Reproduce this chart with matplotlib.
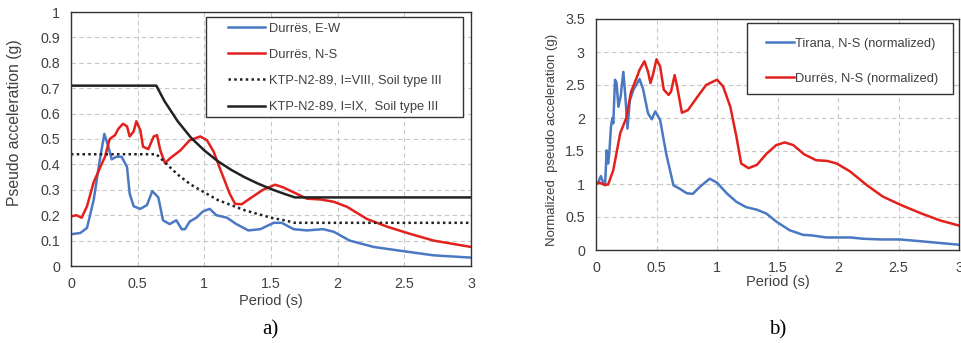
import numpy as np
import matplotlib.pyplot as plt
from matplotlib.patches import Rectangle

plt.rcParams['font.family'] = ['Liberation Sans', 'DejaVu Sans']

# ─────────────────────────────────────────────
# Panel a) – Durrës spectra vs KTP-N2-89
# ─────────────────────────────────────────────
t_ew = [0, 0.07, 0.12, 0.17, 0.22, 0.25, 0.28, 0.305, 0.34, 0.38, 0.42, 0.44, 0.47,
        0.52, 0.57, 0.61, 0.655, 0.69, 0.74, 0.79, 0.83, 0.855, 0.89, 0.94, 0.99,
        1.04, 1.09, 1.17, 1.24, 1.33, 1.42, 1.52, 1.58, 1.67, 1.77, 1.89, 1.97,
        2.09, 2.27, 2.47, 2.72, 3.0]
sa_ew = [0.125, 0.13, 0.15, 0.26, 0.43, 0.52, 0.47, 0.42, 0.43, 0.43, 0.39, 0.285, 0.235,
         0.225, 0.24, 0.295, 0.27, 0.18, 0.165, 0.18, 0.145, 0.145, 0.175, 0.19, 0.215,
         0.225, 0.2, 0.19, 0.165, 0.14, 0.145, 0.17, 0.17, 0.145, 0.14, 0.145, 0.135,
         0.10, 0.075, 0.06, 0.042, 0.033]

t_ns = [0, 0.04, 0.08, 0.12, 0.17, 0.22, 0.255, 0.29, 0.33, 0.355, 0.39, 0.42, 0.44,
        0.47, 0.49, 0.52, 0.54, 0.58, 0.62, 0.645, 0.67, 0.705, 0.745, 0.82, 0.89,
        0.97, 1.02, 1.07, 1.12, 1.19, 1.23, 1.28, 1.34, 1.44, 1.53, 1.59, 1.67, 1.77,
        1.87, 1.97, 2.07, 2.22, 2.37, 2.54, 2.72, 3.0]
sa_ns = [0.195, 0.2, 0.19, 0.235, 0.33, 0.39, 0.43, 0.5, 0.515, 0.54, 0.56, 0.55, 0.51,
         0.53, 0.57, 0.535, 0.47, 0.46, 0.51, 0.515, 0.455, 0.405, 0.425, 0.455, 0.495,
         0.51, 0.495, 0.45, 0.38, 0.285, 0.245, 0.243, 0.265, 0.3, 0.32, 0.31, 0.29, 0.265,
         0.262, 0.253, 0.233, 0.185, 0.155, 0.127, 0.1, 0.075]

t_code = [0, 0.64, 0.7, 0.8, 0.9, 1.0, 1.1, 1.2, 1.3, 1.4, 1.5, 1.6, 1.68, 3.0]
sa_viii = [0.44, 0.44, 0.41, 0.36, 0.32, 0.29, 0.26, 0.24, 0.22, 0.205, 0.19, 0.18, 0.17, 0.17]
sa_ix = [0.71, 0.71, 0.65, 0.57, 0.505, 0.455, 0.413, 0.379, 0.35, 0.325, 0.303, 0.284, 0.27, 0.27]

# ─────────────────────────────────────────────
# Panel b) – normalized spectra
# ─────────────────────────────────────────────
t_tir = [0, 0.02, 0.04, 0.06, 0.075, 0.088, 0.10, 0.11, 0.124, 0.135, 0.143, 0.157,
         0.17, 0.185, 0.204, 0.226, 0.245, 0.26, 0.28, 0.31, 0.36, 0.39, 0.43, 0.46,
         0.49, 0.53, 0.58, 0.64, 0.69, 0.75, 0.80, 0.86, 0.94, 1.0, 1.08, 1.16, 1.24,
         1.33, 1.41, 1.49, 1.6, 1.71, 1.79, 1.9, 2.01, 2.1, 2.21, 2.35, 2.51, 2.7, 3.0]
sa_tir = [1.0, 1.03, 1.12, 1.02, 0.98, 1.51, 1.31, 1.47, 1.87, 2.0, 1.92, 2.58,
          2.53, 2.17, 2.33, 2.70, 2.27, 1.84, 2.27, 2.43, 2.59, 2.43, 2.07, 1.98,
          2.10, 1.97, 1.46, 0.98, 0.93, 0.86, 0.85, 0.96, 1.08, 1.02, 0.86, 0.73, 0.65,
          0.61, 0.55, 0.43, 0.30, 0.23, 0.22, 0.19, 0.19, 0.19, 0.17, 0.16, 0.16, 0.13, 0.08]

t_dur = [0, 0.03, 0.066, 0.10, 0.143, 0.2, 0.25, 0.29, 0.34, 0.36, 0.40, 0.43, 0.45,
         0.47, 0.50, 0.53, 0.56, 0.60, 0.62, 0.65, 0.67, 0.71, 0.76, 0.83, 0.91, 1.0,
         1.05, 1.11, 1.16, 1.2, 1.26, 1.33, 1.41, 1.49, 1.56, 1.63, 1.72, 1.82, 1.91,
         1.99, 2.1, 2.24, 2.37, 2.51, 2.68, 2.84, 3.0]
sa_dur = [1.0, 1.02, 0.99, 0.99, 1.21, 1.77, 2.0, 2.4, 2.63, 2.73, 2.86, 2.70, 2.53,
          2.65, 2.89, 2.78, 2.43, 2.35, 2.40, 2.65, 2.48, 2.08, 2.12, 2.30, 2.50, 2.58,
          2.48, 2.17, 1.72, 1.31, 1.24, 1.29, 1.46, 1.59, 1.63, 1.59, 1.45, 1.36, 1.35,
          1.31, 1.19, 0.98, 0.81, 0.69, 0.56, 0.45, 0.37]

BLUE = '#4a78c2'
RED = '#e3201c'
TXT = '#404040'
W, H = 961, 343

fig = plt.figure(figsize=(W / 100, H / 100), dpi=100)
ax1 = fig.add_axes([71 / W, 1 - 266 / H, 400 / W, 254 / H])
ax2 = fig.add_axes([596 / W, 1 - 250 / H, 363 / W, 231 / H])


def estilo(ax, ymax, ystep, xpad):
    ax.set_xlim(0, 3)
    ax.set_ylim(0, ymax)
    ax.set_xticks(np.arange(0, 3.01, 0.5))
    ax.set_xticklabels(['0', '0.5', '1', '1.5', '2', '2.5', '3'])
    ax.set_yticks(np.arange(0, ymax + 0.001, ystep))
    ax.set_yticklabels([f'{v:g}' for v in np.arange(0, ymax + 0.001, ystep)])
    ax.grid(True, color='#c8c8c8', linestyle=(0, (4, 3)), linewidth=0.8)
    ax.set_axisbelow(True)
    for s in ax.spines.values():
        s.set_color('#333333')
        s.set_linewidth(1.0)
    ax.tick_params(labelsize=10.3, length=0, pad=8, labelcolor=TXT)
    ax.set_xlabel('Period (s)', fontsize=10.5, color=TXT, labelpad=xpad)


def caja(ax, x0, y0, x1, y1):
    # marco de leyenda en coordenadas de píxel de la figura
    bb = ax.get_position()
    fx0, fy0 = bb.x0 * W, (1 - bb.y1) * H
    fw, fh = bb.width * W, bb.height * H
    r = Rectangle(((x0 - fx0) / fw, 1 - (y1 - fy0) / fh), (x1 - x0) / fw, (y1 - y0) / fh,
                  transform=ax.transAxes, facecolor='white', edgecolor='#333333',
                  linewidth=1.0, zorder=4)
    ax.add_patch(r)


estilo(ax1, 1.0, 0.1, 2)
ax1.plot(t_ew, sa_ew, color=BLUE, lw=1.8, label='Durrës, E-W')
ax1.plot(t_ns, sa_ns, color=RED, lw=1.8, label='Durrës, N-S')
ax1.plot(t_code, sa_viii, color='#222222', lw=1.8, linestyle=(0, (1, 1.3)),
         label='KTP-N2-89, I=VIII, Soil type III')
ax1.plot(t_code, sa_ix, color='#222222', lw=1.8, label='KTP-N2-89, I=IX,  Soil type III')
ax1.set_ylabel('Pseudo acceleration (g)', fontsize=11.3, color=TXT)
ax1.yaxis.set_label_coords(-49 / 400, 0.563)
caja(ax1, 206, 17, 463, 117)
leg1 = ax1.legend(loc='upper left', bbox_to_anchor=((222 - 71) / 400, 1 - (16 - 12) / 254),
                  fontsize=9.3, frameon=False, handlelength=2.8, labelspacing=1.1,
                  borderpad=0.5, handletextpad=0.35, borderaxespad=0)
leg1.set_zorder(5)
for t in leg1.get_texts():
    t.set_color(TXT)

estilo(ax2, 3.5, 0.5, 0)
ax2.plot(t_tir, sa_tir, color=BLUE, lw=1.8, label='Tirana, N-S (normalized)')
ax2.plot(t_dur, sa_dur, color=RED, lw=1.8, label='Durrës, N-S (normalized)')
ax2.set_ylabel('Normalized  pseudo acceleration (g)', fontsize=9.5, color=TXT)
ax2.yaxis.set_label_coords(-38 / 363, 0.476)
caja(ax2, 747, 23, 953, 94)
leg2 = ax2.legend(loc='upper left', bbox_to_anchor=((760 - 596) / 363, 1 - (31 - 19) / 231),
                  fontsize=9.3, frameon=False, handlelength=2.1, labelspacing=1.8,
                  borderpad=0.5, handletextpad=0.1, borderaxespad=0)
leg2.set_zorder(5)
for t in leg2.get_texts():
    t.set_color(TXT)

fig.text(270 / W, 1 - 330 / H, 'a)', fontsize=15, family='Liberation Serif',
         ha='center', va='center')
fig.text(778 / W, 1 - 330 / H, 'b)', fontsize=15, family='Liberation Serif',
         ha='center', va='center')

fig.savefig('out.png', dpi=100)
